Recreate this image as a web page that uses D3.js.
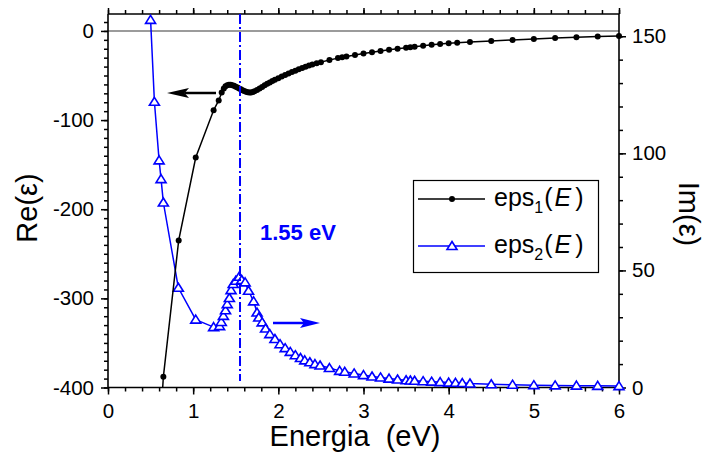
<!DOCTYPE html>
<html>
<head>
<meta charset="utf-8">
<script src="https://cdn.jsdelivr.net/npm/d3@7"></script>
<style>
  html, body { margin: 0; padding: 0; background: #fff; }
  svg { display: block; font-family: "Liberation Sans", Arial, sans-serif; }
</style>
</head>
<body>
<svg id="chart" width="708" height="453"></svg>
<script>
// ---- data ----
const energy1 = [0.50, 0.545, 0.60, 0.623, 0.65, 0.83, 1.03, 1.24, 1.30, 1.335, 1.36, 1.38, 1.40, 1.42, 1.44, 1.46, 1.48, 1.50, 1.52, 1.54, 1.56, 1.58, 1.60, 1.62, 1.64, 1.66, 1.68, 1.70, 1.72, 1.75, 1.78, 1.81, 1.84, 1.87, 1.90, 1.93, 1.96, 2.00, 2.04, 2.08, 2.12, 2.16, 2.20, 2.24, 2.28, 2.32, 2.36, 2.40, 2.45, 2.50, 2.60, 2.70, 2.75, 2.80, 2.90, 3.00, 3.10, 3.20, 3.30, 3.40, 3.50, 3.55, 3.60, 3.70, 3.80, 3.90, 4.00, 4.10, 4.25, 4.50, 4.75, 5.00, 5.25, 5.50, 5.75, 6.00];
const eps1 = [-640, -560, -480, -430, -388, -235, -142, -89, -78, -69, -64.5, -62, -61, -60.5, -60.5, -61, -61.5, -62.5, -63.5, -64.5, -65.5, -66.5, -67.5, -68.2, -68.8, -69.2, -69.2, -68.6, -67.8, -66.2, -64.5, -62.8, -61, -59.3, -57.8, -56.3, -54.8, -53, -51.2, -49.5, -47.8, -46.2, -44.6, -43, -41.6, -40.2, -38.9, -37.6, -36.2, -35, -32.6, -30.5, -29.5, -28.6, -27, -25.4, -24, -22.6, -21.2, -19.9, -18.8, -18.3, -17.7, -16.6, -15.6, -14.7, -13.9, -13.2, -12.5, -11.2, -10.1, -9.0, -8.0, -7.0, -6.3, -5.6];

const energy2 = [0.50, 0.545, 0.60, 0.623, 0.65, 0.826, 1.03, 1.24, 1.31, 1.33, 1.355, 1.38, 1.40, 1.425, 1.445, 1.47, 1.50, 1.54, 1.57, 1.61, 1.65, 1.71, 1.75, 1.77, 1.81, 1.85, 1.90, 1.96, 2.02, 2.08, 2.14, 2.20, 2.26, 2.31, 2.37, 2.43, 2.49, 2.60, 2.72, 2.78, 2.89, 3.00, 3.10, 3.20, 3.30, 3.40, 3.50, 3.55, 3.60, 3.70, 3.80, 3.90, 4.00, 4.08, 4.16, 4.25, 4.50, 4.75, 5.00, 5.25, 5.50, 5.75, 6.00];
const eps2 = [157, 122, 97, 89, 79, 42.6, 29, 25.8, 26.2, 28, 30.6, 33, 35.6, 38.2, 41.6, 44.2, 45.6, 47.3, 45.9, 44.9, 41.3, 36.8, 32, 29.9, 27.8, 25.2, 22.8, 20.7, 18.5, 16.8, 15.2, 13.8, 12.6, 11.6, 10.8, 10.0, 9.4, 8.3, 7.1, 6.7, 6.0, 5.3, 4.7, 4.3, 3.8, 3.4, 3.1, 3.0, 2.9, 2.7, 2.5, 2.3, 2.1, 2.0, 1.9, 1.7, 1.4, 1.2, 1.0, 0.9, 0.8, 0.7, 0.6];

const xTicks = [0, 1, 2, 3, 4, 5, 6];
const leftTicks = [-400, -300, -200, -100, 0];
const rightTicks = [0, 50, 100, 150];
const peakEnergy = 1.55;
const seriesNames = ["eps", "eps"];
const seriesSubs = ["1", "2"];

// ---- layout ----
const svg = d3.select("#chart");
const L = 108, R = 619, T = 14, B = 387.5;
const x = d3.scaleLinear().domain([0, 6]).range([L, R]);
const yL = d3.scaleLinear().domain([-400, 19]).range([B, T]);
const yR = d3.scaleLinear().domain([0, 159.5]).range([B, T]);
const blue = "#0000ff";
const fmt = d => String(d);

svg.append("defs").append("clipPath").attr("id", "clip")
  .append("rect").attr("x", L).attr("y", T).attr("width", R - L).attr("height", B - T);

// zero line
svg.append("line").attr("x1", L).attr("x2", R).attr("y1", yL(0)).attr("y2", yL(0))
  .attr("stroke", "#7a7a7a").attr("stroke-width", 1.5);

// axes
function styleAxis(g) {
  g.select(".domain").remove();
  g.selectAll("line").attr("stroke", "#000").attr("stroke-width", 1.5);
  g.selectAll("text").attr("font-size", 20.5).attr("fill", "#000").attr("font-family", "Liberation Sans, Arial, sans-serif");
}
const xMinor = d3.range(0, 6.001, 0.2).map(v => +v.toFixed(1));
const lMinor = d3.range(-400, 19, 10);
const rMinor = d3.range(0, 160, 10);

// bottom
svg.append("g").attr("transform", `translate(0,${B})`)
  .call(d3.axisBottom(x).tickValues(xMinor).tickSize(4).tickFormat("")).call(styleAxis);
svg.append("g").attr("transform", `translate(0,${B})`)
  .call(d3.axisBottom(x).tickValues(xTicks).tickSize(7).tickPadding(9).tickFormat(fmt)).call(styleAxis);
// top
svg.append("g").attr("transform", `translate(0,${T})`)
  .call(d3.axisTop(x).tickValues(xMinor).tickSize(4).tickFormat("")).call(styleAxis);
svg.append("g").attr("transform", `translate(0,${T})`)
  .call(d3.axisTop(x).tickValues(xTicks).tickSize(6).tickFormat("")).call(styleAxis);
// left
svg.append("g").attr("transform", `translate(${L},0)`)
  .call(d3.axisLeft(yL).tickValues(lMinor).tickSize(4).tickFormat("")).call(styleAxis);
svg.append("g").attr("transform", `translate(${L},0)`)
  .call(d3.axisLeft(yL).tickValues(leftTicks).tickSize(7).tickPadding(7).tickFormat(fmt)).call(styleAxis);
// right
svg.append("g").attr("transform", `translate(${R},0)`)
  .call(d3.axisRight(yR).tickValues(rMinor).tickSize(4).tickFormat("")).call(styleAxis);
svg.append("g").attr("transform", `translate(${R},0)`)
  .call(d3.axisRight(yR).tickValues(rightTicks).tickSize(7).tickPadding(6).tickFormat(fmt)).call(styleAxis);

// frame lines
const frame = svg.append("g").attr("stroke", "#000").attr("stroke-width", 1.6);
frame.append("line").attr("x1", L).attr("x2", R).attr("y1", B).attr("y2", B);
frame.append("line").attr("x1", L).attr("x2", R).attr("y1", T).attr("y2", T);
frame.append("line").attr("x1", L).attr("x2", L).attr("y1", T).attr("y2", B);
frame.append("line").attr("x1", R).attr("x2", R).attr("y1", T).attr("y2", B);

// eps2 series
const d2 = energy2.map((e, i) => [e, eps2[i]]);
const d1 = energy1.map((e, i) => [e, eps1[i]]);
const tri = "M0,-4.5L5,3.5L-5,3.5Z";

svg.append("path").datum(d2).attr("clip-path", "url(#clip)")
  .attr("fill", "none").attr("stroke", blue).attr("stroke-width", 1.5)
  .attr("d", d3.line().x(d => x(d[0])).y(d => yR(d[1])));
svg.append("g").selectAll("path").data(d2).join("path")
  .attr("d", tri).attr("transform", d => `translate(${x(d[0])},${yR(d[1])})`)
  .attr("fill", "#fff").attr("stroke", blue).attr("stroke-width", 1.6);

// eps1 series
svg.append("path").datum(d1).attr("clip-path", "url(#clip)")
  .attr("fill", "none").attr("stroke", "#000").attr("stroke-width", 1.5)
  .attr("d", d3.line().x(d => x(d[0])).y(d => yL(d[1])));
svg.append("g").selectAll("circle").data(d1.filter(d => d[1] >= -400)).join("circle")
  .attr("cx", d => x(d[0])).attr("cy", d => yL(d[1])).attr("r", 3).attr("fill", "#000");

// vertical dash-dot line
svg.append("line").attr("x1", x(peakEnergy)).attr("x2", x(peakEnergy))
  .attr("y1", T).attr("y2", 381)
  .attr("stroke", blue).attr("stroke-width", 2).attr("stroke-dasharray", "10,3,2,3");

svg.append("text").attr("x", 260).attr("y", 240).attr("fill", blue)
  .attr("font-weight", "bold").attr("font-size", 22).text(peakEnergy + " eV");

// arrows
function arrow(x1, x2, y, color, hl, hw) {
  const dir = Math.sign(x2 - x1);
  svg.append("line").attr("x1", x1).attr("x2", x2 - dir * hl * 0.8).attr("y1", y).attr("y2", y)
    .attr("stroke", color).attr("stroke-width", 2.5);
  svg.append("path").attr("fill", color)
    .attr("d", `M${x2},${y}L${x2 - dir * hl},${y - hw}L${x2 - dir * hl * 0.8},${y}L${x2 - dir * hl},${y + hw}Z`);
}
arrow(216, 167, 93, "#000", 22, 5);
arrow(273, 320, 323, blue, 20, 5);

// legend
const lg = svg.append("g");
lg.append("rect").attr("x", 413.5).attr("y", 180.5).attr("width", 185).attr("height", 92)
  .attr("fill", "#fff").attr("stroke", "#000").attr("stroke-width", 1.2);
const rows = [199, 246];
rows.forEach((ry, i) => {
  const c = i === 0 ? "#000" : blue;
  lg.append("line").attr("x1", 418).attr("x2", 485).attr("y1", ry).attr("y2", ry)
    .attr("stroke", c).attr("stroke-width", 1.5);
  if (i === 0) lg.append("circle").attr("cx", 452).attr("cy", ry).attr("r", 3).attr("fill", "#000");
  else lg.append("path").attr("d", tri).attr("transform", `translate(452,${ry})`)
    .attr("fill", "#fff").attr("stroke", blue).attr("stroke-width", 1.6);
  const t = lg.append("text").attr("x", 494).attr("y", ry + 7).attr("font-size", 25).attr("fill", "#000");
  t.append("tspan").text(seriesNames[i]);
  t.append("tspan").attr("font-size", 16).attr("dy", 7).text(seriesSubs[i]);
  t.append("tspan").attr("dy", -7).attr("dx", 1).text("(");
  t.append("tspan").attr("font-style", "italic").attr("dx", 2).text("E");
  t.append("tspan").attr("dx", 4).text(")");
});

// axis titles
svg.append("text").attr("x", 355).attr("y", 446).attr("text-anchor", "middle")
  .attr("font-size", 29).style("white-space", "pre").text("Energia  (eV)");
svg.append("text").attr("transform", "translate(37,208) rotate(-90)").attr("text-anchor", "middle")
  .attr("font-size", 29).text("Re(ε)");
svg.append("text").attr("transform", "translate(679,214) rotate(90)").attr("text-anchor", "middle")
  .attr("font-size", 29).text("Im(ε)");
</script>
</body>
</html>
